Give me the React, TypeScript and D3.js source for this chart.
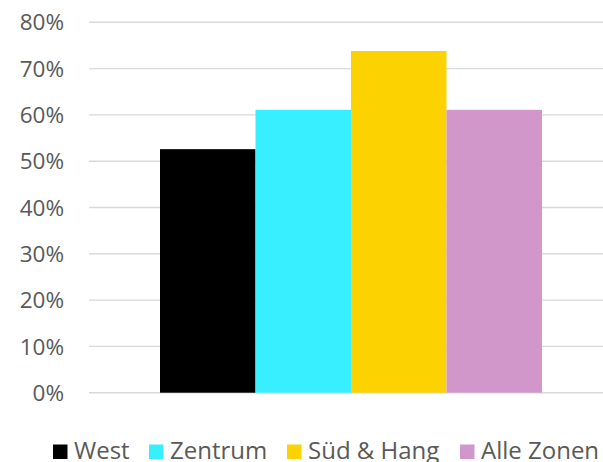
import React from "react";
import * as d3 from "d3";

const series = ["West", "Zentrum", "Süd & Hang", "Alle Zonen"];
const values = [0.526, 0.611, 0.738, 0.611];
const colors = ["#000000", "#37EFFF", "#FCD200", "#D197CA"];
const yTicks = [0, 0.1, 0.2, 0.3, 0.4, 0.5, 0.6, 0.7, 0.8];
const legendX = [53, 149, 287, 460];

const W = 603;
const H = 462;

export default function App() {
  const y = d3.scaleLinear().domain([0, 0.8]).range([392.7, 22.3]);
  const x = d3.scaleBand<string>().domain(series).range([160, 542]).padding(0);
  const fmt = d3.format(".0%");
  const font = "'Open Sans', sans-serif";
  return (
    <svg
      width={W}
      height={H}
      style={{ position: "absolute", left: 0, top: 0, background: "#fff" }}
    >
      {yTicks.map((t) => (
        <g key={t}>
          <line x1={89} x2={603} y1={y(t)} y2={y(t)} stroke="#d9d9d9" strokeWidth={1.4} />
          <text
            x={64}
            y={y(t)}
            dy="0.36em"
            textAnchor="end"
            fontFamily={font}
            fontSize={22.5}
            fill="#595959"
          >
            {fmt(t)}
          </text>
        </g>
      ))}
      {series.map((s, i) => (
        <rect
          key={s}
          x={x(s)}
          y={y(values[i])}
          width={x.bandwidth()}
          height={y(0) - y(values[i])}
          fill={colors[i]}
        />
      ))}
      {series.map((s, i) => (
        <g key={s}>
          <rect x={legendX[i]} y={444.5} width={14.5} height={14.5} fill={colors[i]} />
          <text
            x={legendX[i] + 21}
            y={459}
            fontFamily={font}
            fontSize={24}
            fill="#595959"
          >
            {s}
          </text>
        </g>
      ))}
    </svg>
  );
}
